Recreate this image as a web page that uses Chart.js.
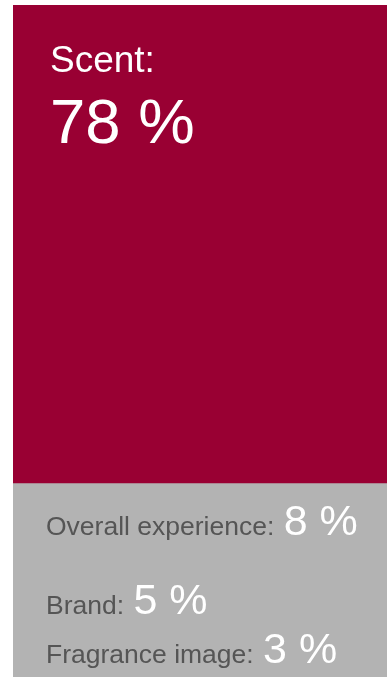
<!DOCTYPE html>
<html>
<head>
<meta charset="utf-8">
<title>Purchase drivers</title>
<script src="https://cdn.jsdelivr.net/npm/chart.js@4/dist/chart.umd.min.js"></script>
<style>
  html, body { margin: 0; padding: 0; background: #ffffff; }
  #wrap { position: relative; width: 387px; height: 677px; }
</style>
</head>
<body>
<div id="wrap"><canvas id="chart"></canvas></div>
<script>
// Share of respondents naming each reason
const mainLabel = "Scent";
const mainValue = 78;
const otherLabels = ["Overall experience", "Brand", "Fragrance image"];
const otherValues = [8, 5, 3];

const RED = "#990033";
const GRAY = "#b3b3b3";
const NAME_GRAY = "#555555";
const FONT = "'Liberation Sans', Arial, Helvetica, sans-serif";

// The big block is drawn on its own (compressed) axis, the small ones on an
// expanded axis so their labels have room.
const mainAxisMax = 109.7;
const otherSum = otherValues.reduce((a, b) => a + b, 0);
const otherAxisMin = -39.4;

const datasets = [
  {
    label: mainLabel,
    data: [mainValue],
    backgroundColor: RED,
    borderWidth: 0,
    yAxisID: "yMain",
  },
  ...otherLabels.map((label, i) => ({
    label,
    data: [otherValues[i]],
    backgroundColor: GRAY,
    borderWidth: 0,
    yAxisID: "yOther",
  })),
];

// Writes the name and percentage inside each block
const blockLabels = {
  id: "blockLabels",
  afterDatasetsDraw(chart) {
    const ctx = chart.ctx;
    ctx.save();
    ctx.textAlign = "left";
    ctx.textBaseline = "alphabetic";

    const main = chart.getDatasetMeta(0).data[0];
    const left = main.x - main.width / 2;
    const top = Math.min(main.y, main.base);
    ctx.fillStyle = "#ffffff";
    ctx.font = `37px ${FONT}`;
    ctx.fillText(mainLabel + ":", left + 37, top + 67);
    ctx.font = `63.5px ${FONT}`;
    ctx.fillText(mainValue + " %", left + 37, top + 138);

    otherLabels.forEach((label, i) => {
      const bar = chart.getDatasetMeta(i + 1).data[0];
      const x = bar.x - bar.width / 2 + 33;
      const y = (bar.y + bar.base) / 2 + 4;
      const name = label + ": ";
      ctx.font = `26.5px ${FONT}`;
      ctx.fillStyle = NAME_GRAY;
      ctx.fillText(name, x, y);
      const w = ctx.measureText(name).width;
      ctx.font = `43px ${FONT}`;
      ctx.fillStyle = "#ffffff";
      ctx.fillText(otherValues[i] + " %", x + w + 2, y);
    });
    ctx.restore();
  },
};

new Chart(document.getElementById("chart"), {
  type: "bar",
  data: { labels: [""], datasets },
  options: {
    responsive: true,
    maintainAspectRatio: false,
    animation: false,
    layout: { padding: { left: 13, top: 5, right: 0, bottom: 0 } },
    datasets: { bar: { categoryPercentage: 1, barPercentage: 1 } },
    scales: {
      x: { display: false, stacked: true },
      yMain: {
        display: false,
        reverse: true,
        min: 0,
        max: mainAxisMax,
      },
      yOther: {
        display: false,
        reverse: true,
        stacked: true,
        min: otherAxisMin,
        max: otherSum,
      },
    },
    plugins: {
      legend: { display: false },
      tooltip: { enabled: false },
    },
  },
  plugins: [blockLabels],
});
</script>
</body>
</html>
